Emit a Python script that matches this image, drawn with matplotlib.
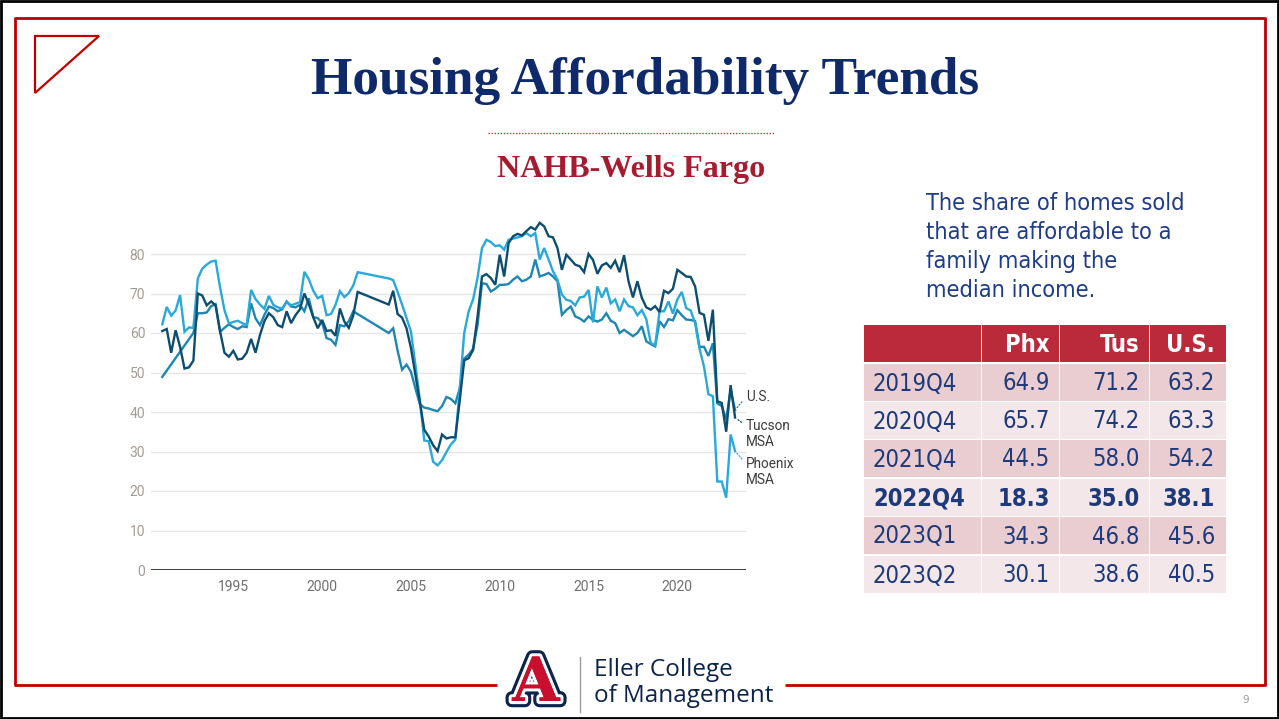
import numpy as np
import matplotlib
matplotlib.use("Agg")
import matplotlib.pyplot as plt
from matplotlib.patches import Rectangle, Polygon
import matplotlib.patheffects as pe

# ---------------- data ----------------
start_year = 1991
n_quarters = 130  # 1991Q1 .. 2023Q2
N = None

phoenix = [
    62.2, 66.6, 64.4, 65.7,   69.6, 60.3, 61.4, 61.3,   73.8, 76.3, 77.3, 78.1,
    78.3, 71.6, 65.8, 62.4,   62.8, 63.1, 62.5, 62.0,   70.9, 68.6, 67.2, 66.1,
    69.4, 67.1, 66.5, 66.2,   67.9, 67.0, 67.4, 67.8,   75.5, 73.6, 70.7, 68.8,
    69.4, 64.5, 64.8, 67.1,   70.6, 69.1, 70.1, 72.0,   75.4, N, N, N,
    N, N, N, 73.8,            73.4, 70.4, 67.2, 63.8,   60.4, 52.0, 43.1, 32.8,
    32.6, 27.4, 26.5, 27.8,   29.9, 31.8, 33.0, 46.0,   60.0, 65.5, 68.5, 74.0,
    81.5, 83.6, 83.0, 82.0,   82.2, 81.1, 83.6, 83.9,   84.2, 84.5, 85.3, 84.5,
    85.3, 78.6, 81.5, 78.6,   75.6, 73.5, 69.7, 68.4,   68.1, 67.0, 69.0, 69.2,
    70.9, 62.7, 71.8, 69.0,   71.5, 67.5, 68.5, 65.5,   68.5, 66.8, 66.5, 64.5,
    65.8, 63.5, 57.5, 56.8,   65.5, 65.5, 68.0, 64.9,   68.5, 70.4, 66.3, 65.7,
    62.5, 56.0, 51.5, 44.5,   44.0, 22.4, 22.4, 18.3,   34.3, 30.1,
]

tucson = [
    60.5, 61.0, 55.0, 60.7,   56.5, 51.0, 51.3, 53.0,   70.0, 69.5, 67.0, 68.0,
    67.0, 60.5, 55.0, 54.0,   55.5, 53.3, 53.5, 55.0,   58.5, 55.0, 59.5, 63.0,
    65.0, 64.0, 62.0, 61.5,   65.5, 62.5, 64.5, 66.0,   70.0, 67.3, 64.0, 61.2,
    63.3, 60.5, 60.7, 59.3,   66.2, 62.9, 61.3, 64.4,   70.4, N, N, N,
    N, N, N, 67.2,            70.7, 64.8, 63.9, 61.2,   56.2, 49.4, 42.6, 35.5,
    33.8, 31.6, 30.1, 34.3,   33.3, 33.6, 33.6, 43.0,   53.1, 53.6, 55.7, 64.2,
    74.3, 74.9, 73.9, 72.2,   79.8, 74.3, 82.8, 84.5,   85.1, 84.7, 85.8, 86.8,
    86.2, 87.9, 87.0, 84.5,   84.2, 81.5, 76.0, 79.8,   78.6, 77.3, 76.9, 75.4,
    80.0, 78.5, 75.0, 77.1,   77.7, 76.5, 78.3, 75.4,   79.7, 73.1, 69.0, 73.1,
    68.9, 66.5, 65.9, 66.8,   65.3, 70.7, 70.1, 71.2,   76.0, 75.2, 74.3, 74.2,
    71.8, 65.1, 64.6, 58.0,   65.9, 42.7, 42.3, 35.0,   46.8, 38.6,
]

us = [
    48.9, N, N, N,            N, N, N, 60.0,            65.0, 65.0, 65.2, 66.8,
    67.3, 60.3, 61.3, 62.2,   61.5, 61.0, 61.7, 61.5,   67.5, 63.7, 62.0, 64.6,
    66.7, 66.3, 65.5, 66.0,   68.0, 66.7, 66.5, 67.1,   65.5, 68.8, 64.0, 63.8,
    62.5, 58.7, 58.3, 57.0,   62.0, 61.7, 63.0, 65.5,   64.8, N, N, N,
    N, N, N, 60.0,            61.2, 55.5, 50.7, 52.0,   50.2, 46.0, 42.0, 41.1,
    40.9, 40.5, 40.2, 41.5,   43.8, 43.3, 42.2, 46.0,   53.5, 54.5, 56.0, 62.0,
    72.6, 72.4, 70.5, 71.2,   72.2, 72.2, 72.4, 73.5,   74.3, 73.1, 73.5, 74.3,
    78.6, 74.3, 74.7, 75.2,   74.3, 73.1, 64.6, 65.8,   66.7, 64.2, 63.7, 62.9,
    64.2, 63.3, 62.9, 63.4,   65.0, 63.1, 62.5, 60.0,   60.8, 60.0, 59.2, 60.0,
    61.7, 57.9, 57.2, 56.6,   63.0, 61.5, 63.5, 63.2,   65.8, 64.5, 63.4, 63.3,
    63.0, 56.5, 56.5, 54.2,   57.4, 42.2, 41.5, 38.1,   45.6, 40.5,
]

x_ticks = [1995, 2000, 2005, 2010, 2015, 2020]
y_ticks = [0, 10, 20, 30, 40, 50, 60, 70, 80]

table_periods = ["2019Q4", "2020Q4", "2021Q4", "2022Q4", "2023Q1", "2023Q2"]
table_cols = ["Phx", "Tus", "U.S."]
table_phx = [64.9, 65.7, 44.5, 18.3, 34.3, 30.1]
table_tus = [71.2, 74.2, 58.0, 35.0, 46.8, 38.6]
table_us = [63.2, 63.3, 54.2, 38.1, 45.6, 40.5]
bold_row = "2022Q4"

title = "Housing Affordability Trends"
subtitle = "NAHB-Wells Fargo"
side_lines = ["The share of homes sold", "that are affordable to a",
              "family making the", "median income."]

# ---------------- figure ----------------
W, H = 1279, 719
fig = plt.figure(figsize=(W / 100, H / 100), dpi=100)
fig.patch.set_facecolor("white")

deco = fig.add_axes([0, 0, 1, 1])
deco.set_xlim(0, W)
deco.set_ylim(H, 0)
deco.axis("off")

renderer = fig.canvas.get_renderer()


def fit(t, width_px):
    w = t.get_window_extent(renderer).width
    t.set_fontsize(t.get_fontsize() * width_px / w)
    return t.get_fontsize()


RED = "#c00000"
NAVY_T = "#0f2a6b"
TXT = "#1f3c88"

# frames
deco.add_patch(Rectangle((1, 1), W - 2, H - 2, fill=False, edgecolor="black", lw=2))
deco.plot([15, 1265], [17.5, 17.5], color=RED, lw=2, solid_capstyle="butt")
deco.plot([15, 15], [16.5, 685], color=RED, lw=2, solid_capstyle="butt")
deco.plot([1265, 1265], [16.5, 685], color=RED, lw=2, solid_capstyle="butt")
deco.plot([14, 497], [684.5, 684.5], color=RED, lw=2, solid_capstyle="butt")
deco.plot([785, 1266], [684.5, 684.5], color=RED, lw=2, solid_capstyle="butt")
deco.add_patch(Polygon([(35, 36), (99, 36), (35, 93)], closed=True, fill=False,
                       edgecolor=RED, lw=1.6))

# title
t = deco.text(645, 81, title, ha="center", va="center", fontsize=40,
              family="Liberation Serif", weight="bold", color=NAVY_T)
fit(t, 669)
deco.plot([488, 775], [133, 133], color="#c0392b", lw=1.0, linestyle=(0, (1, 1.2)))
t = deco.text(631, 170, subtitle, ha="center", va="center", fontsize=22,
              family="Liberation Serif", weight="bold", color="#a51c30")
fit(t, 268)

# side text
sfont = dict(family=["DejaVu Sans"], stretch="condensed")
t0 = deco.text(926, 204, side_lines[0], ha="left", va="center", fontsize=15,
               color=TXT, **sfont)
fs_side = fit(t0, 260)
for i, line in enumerate(side_lines[1:], start=1):
    deco.text(926, 204 + 28.8 * i, line, ha="left", va="center",
              fontsize=fs_side, color=TXT, **sfont)

# table
col_edges = [(864, 981), (982, 1059), (1060, 1149), (1150, 1226)]
header_y = (325, 362)
row_y = [(364, 401), (402, 439), (440, 477), (479, 516), (517, 554), (556, 593)]
HEAD_BG = "#bb2a3a"
ROW_BG = ["#e9cdd1", "#f3e7e9"]
for (x0, x1) in col_edges:
    deco.add_patch(Rectangle((x0, header_y[0]), x1 - x0, header_y[1] - header_y[0],
                             facecolor=HEAD_BG, edgecolor="none"))
    for r, (y0, y1) in enumerate(row_y):
        deco.add_patch(Rectangle((x0, y0), x1 - x0, y1 - y0,
                                 facecolor=ROW_BG[r % 2], edgecolor="none"))
val_right = [1049.5, 1139.5, 1215]
tab_fs = 17
for c, name in enumerate(table_cols):
    deco.text(val_right[c], sum(header_y) / 2 + 1, name, ha="right", va="center",
              fontsize=tab_fs, weight="bold", color="white", **sfont)
cols_vals = [table_phx, table_tus, table_us]
for r, per in enumerate(table_periods):
    yc = sum(row_y[r]) / 2 + 1
    wt = "bold" if per == bold_row else "normal"
    deco.text(873, yc, per, ha="left", va="center", fontsize=tab_fs, weight=wt,
              color="#1f3a7a", **sfont)
    for c in range(3):
        deco.text(val_right[c], yc, f"{cols_vals[c][r]:.1f}", ha="right", va="center",
                  fontsize=tab_fs, weight=wt, color="#1f3a7a", **sfont)

# logo
deco.text(536, 684, "A", ha="center", va="center", fontsize=44,
          family="DejaVu Serif", weight="bold", color="#c8102e",
          path_effects=[pe.withStroke(linewidth=9, foreground="#0c234b"),
                        pe.withStroke(linewidth=4.5, foreground="white"),
                        pe.Normal()])
deco.plot([580, 580], [657, 712], color="#9a9a9a", lw=1)
e2 = deco.text(594, 696, "of Management", ha="left", va="center", fontsize=18,
               family=["Open Sans"], color="#0c234b")
fs_logo = fit(e2, 179)
deco.text(594, 670, "Eller College", ha="left", va="center", fontsize=fs_logo,
          family=["Open Sans"], color="#0c234b")
deco.text(1246, 700, "9", ha="center", va="center", fontsize=7.5, color="#9a9a9a")

# ---------------- chart ----------------
px_per_unit = 3.95
y0px, ytop_val = 570, 90
ax_left, ax_right = 151.4, 745.5
ax = fig.add_axes([ax_left / W, (H - y0px) / H, (ax_right - ax_left) / W,
                   ytop_val * px_per_unit / H])
ax.patch.set_alpha(0)

xq = np.array([start_year + k / 4 for k in range(n_quarters)])
x0_year = start_year - (162.3 - ax_left) / 17.76
x1_year = start_year + (ax_right - 162.3) / 17.76
ax.set_xlim(x0_year, x1_year)
ax.set_ylim(0, ytop_val)

series = [("U.S.", us, "#1d86b3"), ("Phoenix\nMSA", phoenix, "#29a8da"),
          ("Tucson\nMSA", tucson, "#0c4d70")]
for name, vals, col in series:
    v = np.array([np.nan if a is None else a for a in vals], dtype=float)
    m = ~np.isnan(v)
    ax.plot(xq[m], v[m], color=col, lw=1.7, solid_joinstyle="miter", zorder=3)

for yv in y_ticks[1:]:
    ax.axhline(yv, color="#e6e6e6", lw=1, zorder=1)
ax.axhline(0, color="#2b2b2b", lw=1.3, zorder=4)
for s in ax.spines.values():
    s.set_visible(False)
ax.set_yticks(y_ticks)
ax.set_xticks(x_ticks)
ax.set_xticklabels([str(v) for v in x_ticks])
ax.tick_params(axis="both", length=0)
ax.tick_params(axis="y", pad=4.5, labelsize=10, labelcolor="#a39c94")
ax.tick_params(axis="x", pad=7, labelsize=10, labelcolor="#6e6e6e")
for lab in ax.get_xticklabels() + ax.get_yticklabels():
    lab.set_family(["Roboto", "DejaVu Sans"])

# end labels with dotted leaders
label_specs = [("U.S.", us[-1], "#1d86b3", 9.4, (0, 0.5)),
               ("Tucson\nMSA", tucson[-1], "#0c4d70", -11.9, (0, 0.78)),
               ("Phoenix\nMSA", phoenix[-1], "#29a8da", -15.0, (0, 0.78))]
for text, last, col, dy, rp in label_specs:
    ax.annotate(text, xy=(xq[-1], last), xytext=(7.9, dy), textcoords="offset points",
                ha="left", va="center", fontsize=9.8, color="#3c3c3c",
                family=["Roboto", "DejaVu Sans"], linespacing=1.15,
                annotation_clip=False,
                arrowprops=dict(arrowstyle="-", color=col, lw=0.9,
                                linestyle=(0, (1, 1.5)), shrinkA=1.5, shrinkB=1.5,
                                relpos=rp))

fig.savefig("out.png", dpi=100, facecolor="white")
